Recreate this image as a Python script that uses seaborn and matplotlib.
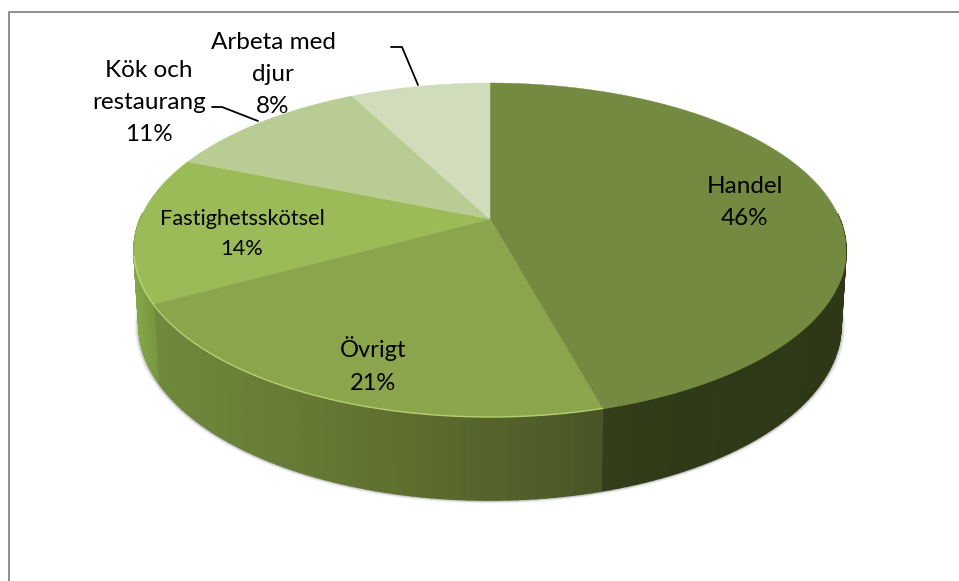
import numpy as np
import seaborn as sns
import matplotlib.pyplot as plt

# data, shares are estimated from the slice angles, the labels show the rounded numbers
categories = ["Handel", "Övrigt", "Fastighetsskötsel", "Kök och\nrestaurang", "Arbeta med\ndjur"]
values = [45.75, 21.25, 14.2, 11.2, 7.6]
percent_labels = ["46%", "21%", "14%", "11%", "8%"]

top_colors = ["#748a40", "#8aa54c", "#9bbb59", "#b9cc94", "#d1dcbb"]
side_colors = [
    ["#2e3716", "#2f3817", "#303a18", "#343e1b"],
    ["#4a5527", "#5a692d", "#667a35", "#6f8a3c"],
    ["#789841", "#84a548"],
    ["#84a548", "#84a548"],
    ["#84a548", "#84a548"],
]
front_rim = ["#748a40", "#b4d070", "#b8d878", "#b9cc94", "#d1dcbb"]

label_pos = [(745, 202.5), (373, 365), (242, 234), (149, 102.5), (273, 74.5)]
label_size = [17.5, 17, 15.7, 17.5, 17.5]
label_spacing = [1.65, 1.65, 1.6, 1.65, 1.65]
leaders = [([212, 222, 258], [107, 107, 121]), ([391, 402, 418], [47, 47, 85])]

sns.set_theme(style="white")
plt.rcParams["font.family"] = ["Lato", "DejaVu Sans"]

# top ellipse and bottom ellipse, the pie centre sits off-centre because of perspective
TOP = (490, 250, 356, 167)
BOT = (490, 325, 351, 175)
SKEW = 0.186


def project(theta, ell):
    cx, cy, a, b = ell
    u, v = np.sin(theta), np.cos(theta)
    d = 1 + SKEW * v
    xp = u * np.sqrt(1 - SKEW**2) / d
    yp = (v + SKEW) / d
    return cx + a * xp, cy - b * yp


fig = plt.figure(figsize=(9.59, 5.81), dpi=100)
ax = fig.add_axes([0, 0, 1, 1])
ax.set_xlim(0, 959)
ax.set_ylim(581, 0)
ax.axis("off")

# frame, only left and top are in the picture
ax.plot([8.5, 8.5, 959], [581, 11.5, 11.5], color="#868686", lw=1.3, zorder=1)

edges = 2 * np.pi * np.cumsum([0] + values) / sum(values)

# soft shadow under the side
full = np.linspace(np.pi * 0.45, np.pi * 1.55, 200)
for grow, al in zip([5, 4, 3, 2, 1], [0.05, 0.07, 0.1, 0.14, 0.2]):
    bx, by = project(full, (BOT[0], BOT[1] + 0.5, BOT[2] + grow * 0.9, BOT[3] + grow * 0.6))
    ax.fill(bx, by, color="#555555", alpha=al, lw=0, zorder=2)

# side of the pie, strips with the shade running along x, edges overlap to hide the seams
for i in range(len(values)):
    t0 = max(edges[i], np.radians(88))
    t1 = min(edges[i + 1], np.radians(272))
    if t1 <= t0:
        continue
    cmap = sns.blend_palette(side_colors[i], as_cmap=True)
    th = np.linspace(t0, t1, 60)
    xt, yt = project(th, TOP)
    xb, yb = project(th, BOT)
    pos = (xt.max() - xt) / max(np.ptp(xt), 1)
    for j in range(len(th) - 1):
        col = cmap(pos[j])
        ax.fill(
            [xt[j], xt[j + 1], xb[j + 1], xb[j]],
            [yt[j], yt[j + 1], yb[j + 1], yb[j]],
            facecolor=col,
            edgecolor=col,
            lw=1.2,
            zorder=3,
        )

# top face
for i in range(len(values)):
    th = np.linspace(edges[i], edges[i + 1], 150)
    xt, yt = project(th, TOP)
    ax.fill(
        np.r_[490, xt],
        np.r_[TOP[1] - SKEW * TOP[3], yt],
        color=top_colors[i],
        lw=0.3,
        zorder=4,
    )
    # light rim only on the front half
    front = yt > TOP[1] + 5
    if front.any():
        ax.plot(xt[front], yt[front], color=front_rim[i], lw=1.0, zorder=5)

for i, name in enumerate(categories):
    ax.text(
        label_pos[i][0],
        label_pos[i][1],
        name + "\n" + percent_labels[i],
        ha="center",
        va="center",
        fontsize=label_size[i],
        linespacing=label_spacing[i],
        color="black",
        zorder=6,
    )

for lx, ly in leaders:
    ax.plot(lx, ly, color="black", lw=1.3, zorder=6)

fig.savefig("out.png", dpi=100)
